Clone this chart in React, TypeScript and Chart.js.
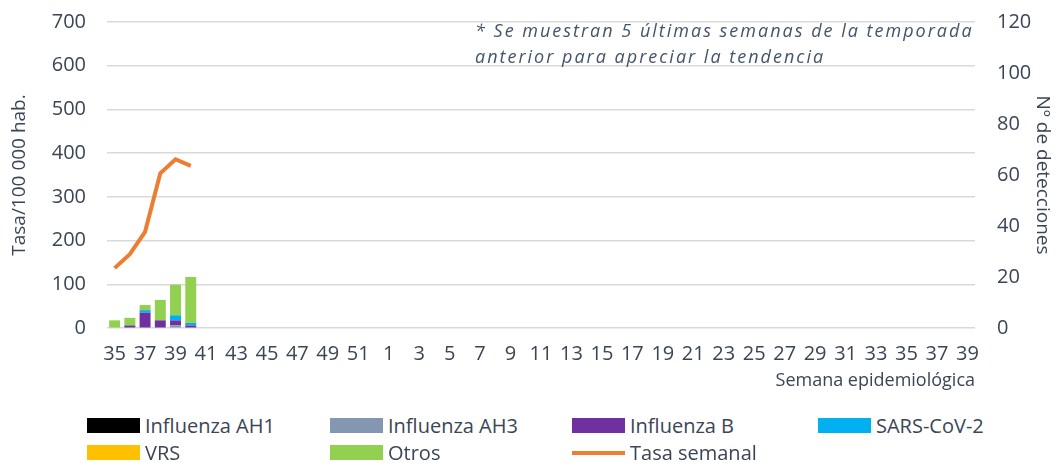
import React, { useEffect, useRef } from "react";
import { Chart, registerables } from "chart.js";

Chart.register(...registerables);

const weeks: string[] = [
  "35","36","37","38","39","40","41","42","43","44","45","46","47","48","49","50","51","52",
  "1","2","3","4","5","6","7","8","9","10","11","12","13","14","15","16","17","18","19","20",
  "21","22","23","24","25","26","27","28","29","30","31","32","33","34","35","36","37","38","39",
];

const influenzaAH1: (number | null)[] = [0, 0, 0, 0, 0, 0];
const influenzaAH3: (number | null)[] = [0, 0, 0, 0, 1, 0];
const influenzaB: (number | null)[] = [0, 1, 6, 3, 2, 1];
const sarsCoV2: (number | null)[] = [0, 0, 1, 0, 2, 1];
const vrs: (number | null)[] = [0, 0, 0, 0, 0, 0];
const otros: (number | null)[] = [3, 3, 2, 8, 12, 18];
const tasaSemanal: (number | null)[] = [137, 169, 220, 354, 386, 371];

const leftTicks = [0, 100, 200, 300, 400, 500, 600, 700];
const rightTicks = [0, 20, 40, 60, 80, 100, 120];

const colors = {
  ah1: "#000000",
  ah3: "#8497b0",
  b: "#7030a0",
  sars: "#00b0f0",
  vrs: "#ffc000",
  otros: "#92d050",
  tasa: "#ed7d31",
};

const FONT = "'Open Sans', sans-serif";
const TXT = "#3a4556";

export default function App() {
  const ref = useRef<HTMLCanvasElement | null>(null);

  useEffect(() => {
    const canvas = ref.current;
    if (!canvas) return;
    const pad = (arr: (number | null)[]) =>
      weeks.map((_, i) => (i < arr.length ? arr[i] : null));
    const barCommon = {
      type: "bar" as const,
      yAxisID: "y1",
      stack: "s",
      barPercentage: 0.72,
      categoryPercentage: 1,
      order: 1,
    };
    const chart = new Chart(canvas, {
      type: "bar",
      data: {
        labels: weeks,
        datasets: [
          { ...barCommon, label: "Influenza AH1", data: pad(influenzaAH1), backgroundColor: colors.ah1 },
          { ...barCommon, label: "Influenza AH3", data: pad(influenzaAH3), backgroundColor: colors.ah3 },
          { ...barCommon, label: "Influenza B", data: pad(influenzaB), backgroundColor: colors.b },
          { ...barCommon, label: "SARS-CoV-2", data: pad(sarsCoV2), backgroundColor: colors.sars },
          { ...barCommon, label: "VRS", data: pad(vrs), backgroundColor: colors.vrs },
          { ...barCommon, label: "Otros", data: pad(otros), backgroundColor: colors.otros },
          {
            type: "line" as const,
            label: "Tasa semanal",
            data: pad(tasaSemanal),
            yAxisID: "y",
            borderColor: colors.tasa,
            backgroundColor: colors.tasa,
            borderWidth: 4,
            pointRadius: 0,
            tension: 0,
            order: 0,
          } as any,
        ],
      },
      options: {
        responsive: false,
        animation: false,
        layout: { autoPadding: false, padding: { left: 8, right: 0, top: 22, bottom: 0 } },
        plugins: { legend: { display: false }, tooltip: { enabled: false } },
        scales: {
          x: {
            stacked: true,
            grid: { display: false, drawTicks: false },
            border: { display: false },
            afterFit: (axis: any) => {
              axis.height = 64;
              axis.paddingLeft = 0;
              axis.paddingRight = 0;
            },
            ticks: {
              autoSkip: false,
              maxRotation: 0,
              minRotation: 0,
              padding: 14,
              color: TXT,
              font: { family: FONT, size: 20 },
              callback: (_v: any, i: number) => (i % 2 === 0 ? weeks[i] : ""),
            },
            title: {
              display: true,
              text: "Semana epidemiológica",
              align: "end",
              color: TXT,
              font: { family: FONT, size: 18 },
              padding: { top: 0, bottom: 0 },
            },
          },
          y: {
            position: "left",
            min: 0,
            max: 700,
            afterFit: (axis: any) => {
              axis.width = 99;
              axis.paddingTop = 0;
              axis.paddingBottom = 0;
            },
            afterBuildTicks: (axis: any) => {
              axis.ticks = leftTicks.map((v) => ({ value: v }));
            },
            grid: { color: "#d9d9d9", lineWidth: 1.5, drawTicks: false },
            border: { display: false },
            ticks: { padding: 21, color: TXT, font: { family: FONT, size: 20 } },
            title: {
              display: true,
              text: "Tasa/100 000 hab.",
              color: TXT,
              font: { family: FONT, size: 19 },
              padding: { top: 0, bottom: 4 },
            },
          },
          y1: {
            position: "right",
            stacked: true,
            min: 0,
            max: 120,
            afterFit: (axis: any) => {
              axis.width = 81;
              axis.paddingTop = 0;
              axis.paddingBottom = 0;
            },
            afterBuildTicks: (axis: any) => {
              axis.ticks = rightTicks.map((v) => ({ value: v }));
            },
            grid: { drawOnChartArea: false, drawTicks: false },
            border: { display: false },
            ticks: { padding: 22, color: TXT, font: { family: FONT, size: 20 } },
            title: {
              display: true,
              text: "Nº de detecciones",
              color: TXT,
              font: { family: FONT, size: 19 },
              padding: { top: 2, bottom: 0 },
            },
          },
        },
      } as any,
    });
    return () => chart.destroy();
  }, []);

  const legendItems = [
    { label: "Influenza AH1", color: colors.ah1, x: 87, y: 418, line: false },
    { label: "Influenza AH3", color: colors.ah3, x: 330, y: 418, line: false },
    { label: "Influenza B", color: colors.b, x: 572, y: 418, line: false },
    { label: "SARS-CoV-2", color: colors.sars, x: 818, y: 418, line: false },
    { label: "VRS", color: colors.vrs, x: 87, y: 445, line: false },
    { label: "Otros", color: colors.otros, x: 330, y: 445, line: false },
    { label: "Tasa semanal", color: colors.tasa, x: 572, y: 445, line: true },
  ];

  return (
    <div style={{ position: "fixed", left: 0, top: 0, width: 1056, height: 463, background: "#fff", fontFamily: FONT }}>
      <canvas ref={ref} width={1056} height={392} style={{ position: "absolute", left: 0, top: 0 }} />
      <div
        style={{
          position: "absolute",
          left: 475,
          top: 17,
          fontStyle: "italic",
          fontSize: 18,
          lineHeight: "26px",
          letterSpacing: "2px",
          color: "#44546a",
          whiteSpace: "nowrap",
        }}
      >
        * Se muestran 5 últimas semanas de la temporada
        <br />
        anterior para apreciar la tendencia
      </div>
      {legendItems.map((it) => (
        <div
          key={it.label}
          style={{ position: "absolute", left: it.x, top: it.y, height: 15, display: "flex", alignItems: "center" }}
        >
          <div
            style={{
              width: 53,
              height: it.line ? 4 : 15,
              background: it.color,
              marginRight: 5,
            }}
          />
          <span style={{ fontSize: 20, color: TXT, lineHeight: "15px", whiteSpace: "nowrap" }}>{it.label}</span>
        </div>
      ))}
    </div>
  );
}
